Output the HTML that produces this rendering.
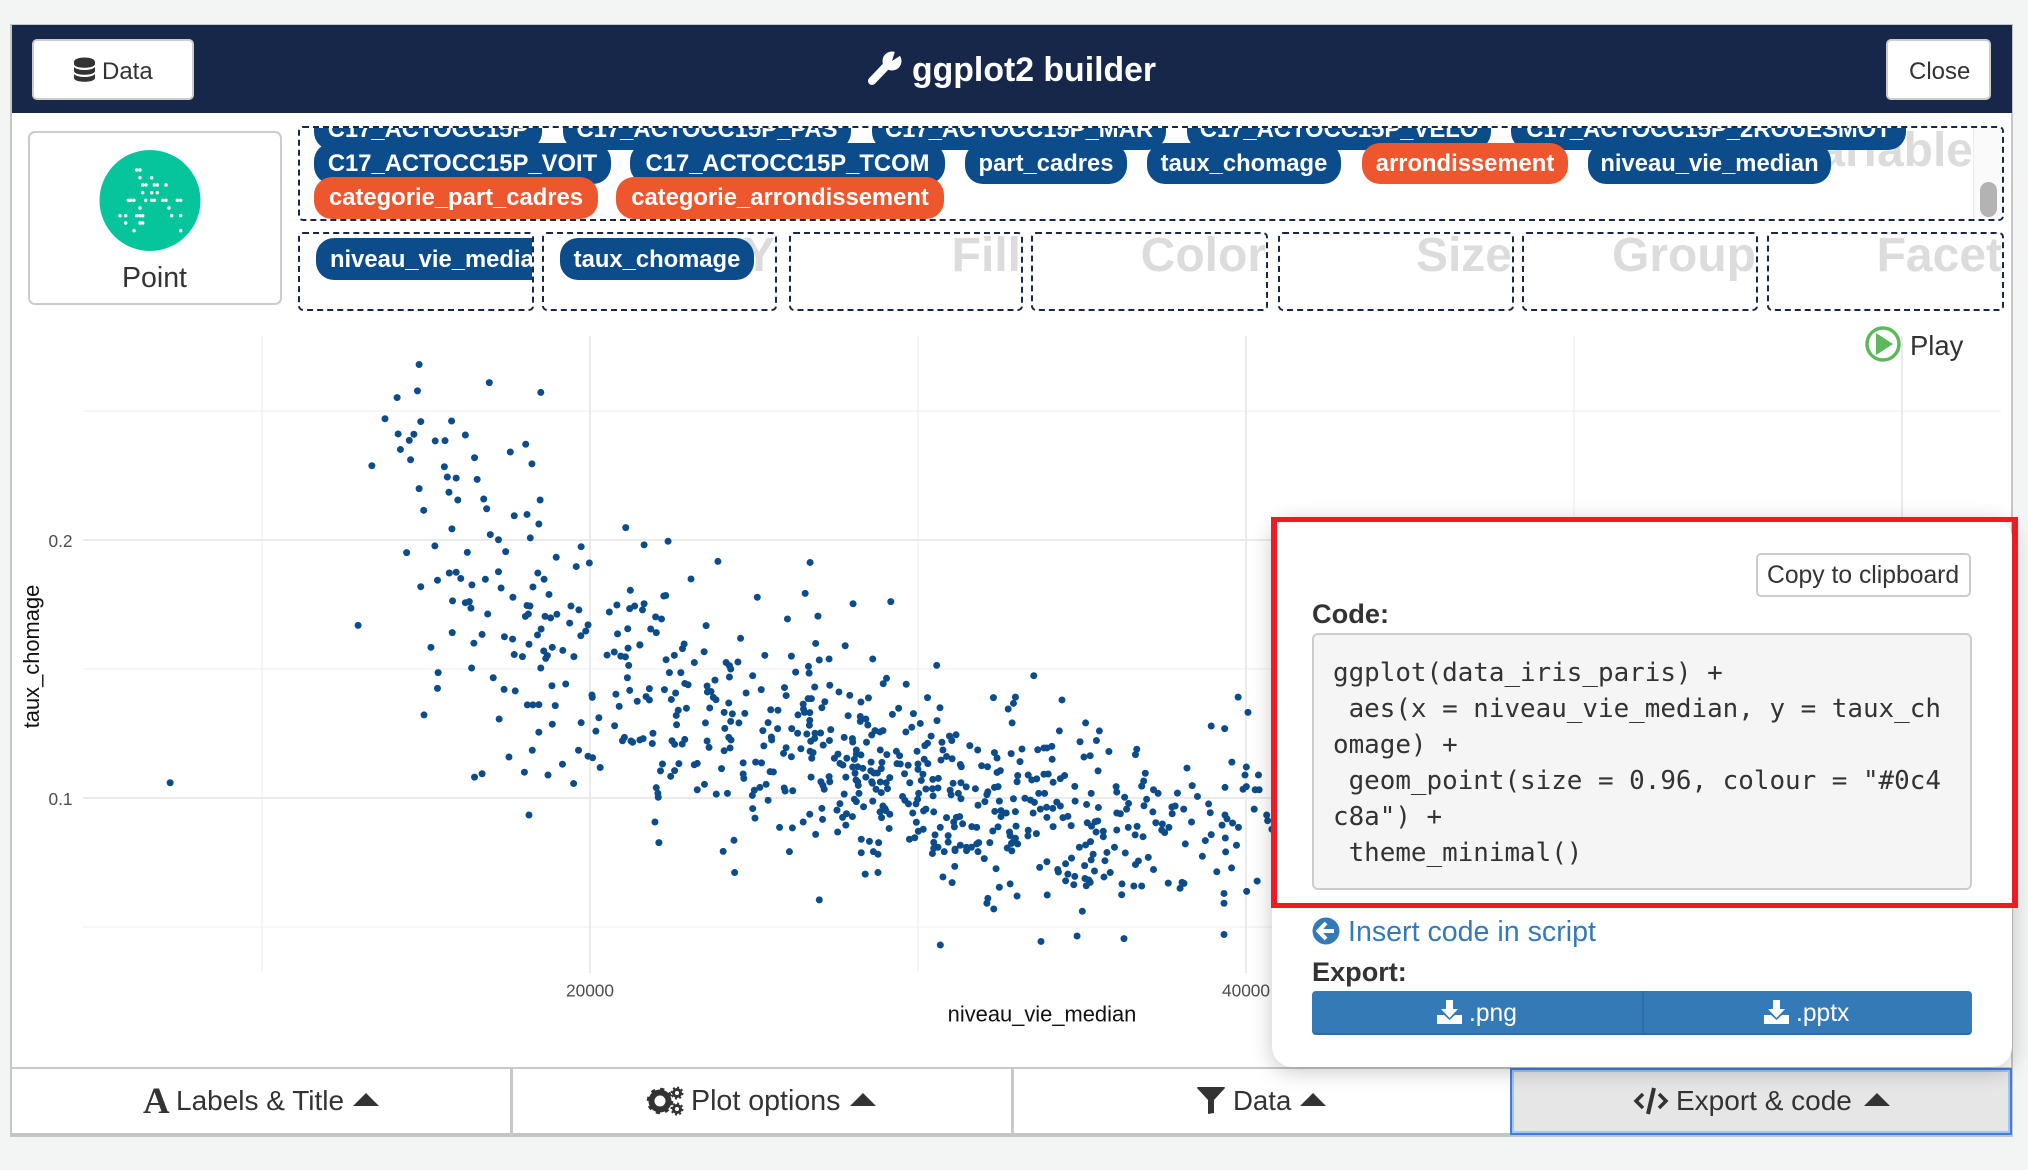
<!DOCTYPE html>
<html lang="en"><head><meta charset="utf-8"><title>ggplot2 builder</title>
<style>
html,body{margin:0;padding:0;width:2028px;height:1170px;overflow:hidden;background:#f3f4f4;font-family:"Liberation Sans",Arial,sans-serif;color:#333}
.a,.t{position:absolute}
.t{white-space:nowrap;line-height:1}
.btn{position:absolute;box-sizing:border-box;background:#fff;border:2px solid #ccc;border-radius:5px}
.dash{position:absolute;box-sizing:border-box;border:2px dashed #16274a;border-radius:5px;overflow:hidden;background:#fff}
.pill{position:absolute;height:41px;line-height:42px;text-align:center;border-radius:18px;color:#fff;font-weight:bold;font-size:23.8px;white-space:nowrap;background:#0c4c8a;z-index:1}
.org{background:#ee562d;z-index:2}
.lab{position:absolute;top:-2px;right:0;font-size:48px;font-weight:bold;color:#dcdcdc;line-height:1}
svg{position:absolute;overflow:visible}
.tab{font-size:28px}
</style></head>
<body>
<div class="a" style="left:10px;top:24px;width:2003px;height:1113px;box-sizing:border-box;background:#fff;border:2px solid #c6c6c6;border-top-width:1px"></div>

<div class="a" style="left:12px;top:25px;width:2000px;height:88px;background:#16274a"></div>
<div class="btn" style="left:32px;top:39px;width:162px;height:61px"></div>
<svg style="left:0;top:0" width="120" height="100"><path fill="#333" d="M74 62c0-6 21-6 21 0v2c0 5-21 5-21 0zM74 67c4 4 17 4 21 0v4c0 5-21 5-21 0zM74 74c4 4 17 4 21 0v4c0 5-21 5-21 0z"/></svg>
<div class="t" style="left:102px;top:60px;font-size:24px">Data</div>
<svg style="left:858px;top:46px" width="50" height="45"><line x1="14" y1="35" x2="33" y2="15" stroke="#fff" stroke-width="8" stroke-linecap="round"/><circle cx="34" cy="15" r="9.5" fill="#fff"/><path d="M34 15L38 2L48 6z" fill="#16274a"/></svg>
<div class="t" style="left:912px;top:53.9px;font-size:33.8px;font-weight:bold;color:#fff">ggplot2 builder</div>
<div class="btn" style="left:1886px;top:39px;width:105px;height:61px"></div>
<div class="t" style="left:1909px;top:60px;font-size:24px">Close</div>

<div class="btn" style="left:28px;top:131px;width:254px;height:174px;border-radius:7px"></div>
<svg style="left:0;top:0" width="280" height="260"><circle cx="150" cy="200.500" r="50.500" fill="#06c59d"/><path fill="none" stroke="#fff" stroke-width="3.400" stroke-linecap="round" d="M136.700 170h.01M140 170h.01M140 177.700h.01M151.700 177.700h.01M142.700 185h.01M146 185h.01M154.300 185h.01M157.300 185h.01M166 185h.01M142.700 192.700h.01M151.700 192.700h.01M157.300 192.700h.01M128.300 200.300h.01M130.700 200.300h.01M134 200.300h.01M145.700 200.300h.01M151.700 200.300h.01M154.300 200.300h.01M162.700 200.300h.01M166 200.300h.01M177.300 200.300h.01M180.700 200.300h.01M140 208h.01M169 208h.01M120 215.700h.01M125.700 215.700h.01M136.700 215.700h.01M140 215.700h.01M142.700 215.700h.01M171.700 215.700h.01M180.700 215.700h.01M125.700 223h.01M140 223h.01M142.700 223h.01M134 230.700h.01M180.700 230.700h.01"/></svg>
<div class="t" style="left:122px;top:264.200px;font-size:28.500px">Point</div>

<div class="dash" style="left:298px;top:126px;width:1706px;height:95px">
<div class="lab" style="right:29px;top:-1px">Variable</div>
<div class="pill" style="left:14px;top:-19px;width:228px">C17_ACTOCC15P</div>
<div class="pill" style="left:263px;top:-19px;width:288px">C17_ACTOCC15P_PAS</div>
<div class="pill" style="left:572px;top:-19px;width:294px">C17_ACTOCC15P_MAR</div>
<div class="pill" style="left:887px;top:-19px;width:304px">C17_ACTOCC15P_VELO</div>
<div class="pill" style="left:1211px;top:-19px;width:395px">C17_ACTOCC15P_2ROUESMOT</div>
<div class="pill" style="left:14px;top:15px;width:297px">C17_ACTOCC15P_VOIT</div>
<div class="pill" style="left:330px;top:15px;width:315px">C17_ACTOCC15P_TCOM</div>
<div class="pill" style="left:665px;top:15px;width:162px">part_cadres</div>
<div class="pill" style="left:847px;top:15px;width:194px">taux_chomage</div>
<div class="pill org" style="left:1062px;top:15px;width:206px">arrondissement</div>
<div class="pill" style="left:1288px;top:15px;width:243px">niveau_vie_median</div>
<div class="pill org" style="left:14px;top:49px;width:284px;height:42px">categorie_part_cadres</div>
<div class="pill org" style="left:316px;top:49px;width:328px;height:42px">categorie_arrondissement</div>
<div class="a" style="left:1673px;top:0;width:30px;height:91px;background:#fafafa;border-left:1px solid #ececec;z-index:3"></div>
<div class="a" style="left:1680px;top:54px;width:17px;height:35px;border-radius:9px;background:#b3b3b3;z-index:4"></div>
</div>

<div class="dash" style="left:298px;top:232px;width:236px;height:79px"><div class="lab">X</div><div class="pill" style="left:16px;top:4px;width:260px;height:42px;line-height:44px;text-align:left;padding-left:14px;box-sizing:border-box">niveau_vie_median</div></div>
<div class="dash" style="left:542px;top:232px;width:235px;height:79px"><div class="lab">Y</div><div class="pill" style="left:16px;top:4px;width:194px;height:42px;line-height:44px">taux_chomage</div></div>
<div class="dash" style="left:789px;top:232px;width:234px;height:79px"><div class="lab">Fill</div></div>
<div class="dash" style="left:1031px;top:232px;width:237px;height:79px"><div class="lab">Color</div></div>
<div class="dash" style="left:1278px;top:232px;width:236px;height:79px"><div class="lab">Size</div></div>
<div class="dash" style="left:1522px;top:232px;width:236px;height:79px"><div class="lab">Group</div></div>
<div class="dash" style="left:1767px;top:232px;width:237px;height:79px"><div class="lab">Facet</div></div>

<svg id="chart" style="left:0;top:0" width="2028" height="1170"></svg>

<svg style="left:1860px;top:320px" width="48" height="48"><circle cx="23" cy="24" r="16" fill="#fff" stroke="#5cb85c" stroke-width="3.500"/><path d="M16 13L33 24L16 35z" fill="#5cb85c"/></svg>
<div class="t" style="left:1910px;top:331.800px;font-size:27.400px">Play</div>

<!-- bottom tabs -->
<div class="a" style="left:12px;top:1067px;width:2000px;height:69px;box-sizing:border-box;background:#fff;border-top:2px solid #c8c8c8;border-bottom:3px solid #c4c4c4"></div>
<div class="a" style="left:510px;top:1067px;width:3px;height:69px;background:#c8c8c8"></div>
<div class="a" style="left:1011px;top:1067px;width:3px;height:69px;background:#c8c8c8"></div>
<div class="a" style="left:1510px;top:1068px;width:502px;height:67px;box-sizing:border-box;background:#e6e6e6;border:2px solid #3f7fdc;box-shadow:inset 0 0 0 2px #a6c4ee"></div>

<div class="t" style="left:143px;top:1083px;font-family:'Liberation Serif',serif;font-weight:bold;font-size:37px">A</div>
<div class="t tab" style="left:176px;top:1087px">Labels &amp; Title</div>
<svg style="left:353px;top:1093px" width="26" height="13"><path d="M0 13L13 0L26 13z" fill="#333"/></svg>
<svg style="left:648px;top:1087px" width="36" height="28"><circle cx="12" cy="14" r="8.500" fill="none" stroke="#333" stroke-width="6"/><circle cx="12" cy="14" r="11.500" fill="none" stroke="#333" stroke-width="3.500" stroke-dasharray="4 5"/><circle cx="29" cy="6" r="3.500" fill="none" stroke="#333" stroke-width="3"/><circle cx="29" cy="22" r="3.500" fill="none" stroke="#333" stroke-width="3"/><circle cx="29" cy="6" r="5.500" fill="none" stroke="#333" stroke-width="2" stroke-dasharray="2 2.300"/><circle cx="29" cy="22" r="5.500" fill="none" stroke="#333" stroke-width="2" stroke-dasharray="2 2.300"/></svg>
<div class="t tab" style="left:691px;top:1087px;font-size:28.600px">Plot options</div>
<svg style="left:850px;top:1093px" width="26" height="13"><path d="M0 13L13 0L26 13z" fill="#333"/></svg>
<svg style="left:1197px;top:1087px" width="28" height="28"><path d="M0 1C0 0 1 0 2 0H26C27 0 28 0 28 1L17 13V26L11 27V13z" fill="#333"/></svg>
<div class="t tab" style="left:1233px;top:1087px;font-size:27.600px">Data</div>
<svg style="left:1300px;top:1093px" width="26" height="13"><path d="M0 13L13 0L26 13z" fill="#333"/></svg>
<svg style="left:1634px;top:1087px" width="34" height="28"><path d="M9 7L2 14L9 21M25 7L32 14L25 21" fill="none" stroke="#333" stroke-width="3.500"/><path d="M20 1L14 27" stroke="#333" stroke-width="4"/></svg>
<div class="t tab" style="left:1676px;top:1087px">Export &amp; code</div>
<svg style="left:1864px;top:1093px" width="26" height="13"><path d="M0 13L13 0L26 13z" fill="#333"/></svg>

<!-- popup -->
<div class="a" style="left:1272px;top:518px;width:740px;height:549px;background:#fff;border-radius:20px;box-shadow:0 4px 22px rgba(0,0,0,.22)"></div>
<div class="btn" style="left:1756px;top:553px;width:215px;height:44px"></div>
<div class="t" style="left:1767px;top:563.600px;font-size:24.700px">Copy to clipboard</div>
<div class="t" style="left:1312px;top:599.500px;font-size:27.200px;font-weight:bold">Code:</div>
<div class="a" style="left:1312px;top:633px;width:660px;height:257px;box-sizing:border-box;background:#f5f5f5;border:2px solid #ccc;border-radius:6px"></div>
<pre class="a" style="left:1333px;top:655px;margin:0;font-family:'DejaVu Sans Mono','Liberation Mono',monospace;font-size:25.900px;line-height:36px;color:#333">ggplot(data_iris_paris) +
 aes(x = niveau_vie_median, y = taux_ch
omage) +
 geom_point(size = 0.96, colour = "#0c4
c8a") +
 theme_minimal()</pre>
<div class="a" style="left:1271px;top:517px;width:747px;height:391px;box-sizing:border-box;border:solid #ed1c24;border-width:5px 6px"></div>
<svg style="left:1312px;top:917px" width="28" height="28"><circle cx="14" cy="14" r="13.500" fill="#337ab7"/><path d="M14 6L6.500 14L14 22M7 14H22" fill="none" stroke="#fff" stroke-width="4"/></svg>
<div class="t" style="left:1348px;top:917.500px;font-size:28.600px;color:#337ab7">Insert code in script</div>
<div class="t" style="left:1312px;top:957.700px;font-size:27.100px;font-weight:bold">Export:</div>
<div class="a" style="left:1312px;top:991px;width:330px;height:44px;box-sizing:border-box;background:#337ab7;border-bottom:2px solid #2e6da4;border-radius:4px 0 0 4px"></div>
<div class="a" style="left:1642px;top:991px;width:330px;height:44px;box-sizing:border-box;background:#337ab7;border-left:2px solid #2e6da4;border-bottom:2px solid #2e6da4;border-radius:0 4px 4px 0"></div>
<svg style="left:1437px;top:1000px" width="25" height="25"><path d="M9 0H16V9H21L12.500 18L4 9H9zM0 15H7L12.500 20L18 15H25V24H0z" fill="#fff"/></svg>
<div class="t" style="left:1469px;top:1002px;font-size:24.600px;color:#fff">.png</div>
<svg style="left:1764px;top:1000px" width="25" height="25"><path d="M9 0H16V9H21L12.500 18L4 9H9zM0 15H7L12.500 20L18 15H25V24H0z" fill="#fff"/></svg>
<div class="t" style="left:1796px;top:1002px;font-size:24.600px;color:#fff">.pptx</div>

<script>
const xMajorTicks = [20000, 40000, 60000];
const xMinorTicks = [10000, 30000, 50000];
const yMajorTicks = [0.1, 0.2];
const yMinorTicks = [0.05, 0.15, 0.25];
const xTickLabels = ["20000", "40000", ""];
const yTickLabels = ["0.1", "0.2"];
const niveauVieMedian = [
14790,16930,14740,18500,14120,13750,14840,15780,14150,14630,16200,14490,15280,15580,18040,14220,17570,16480,14530,13350,
18230,15560,15650,15920,16560,14790,15700,16760,15970,18480,14930,16850,17690,18080,18440,15790,21090,16960,17210,18180,
15270,19730,14410,16260,17430,18970,19980,19580,15710,15920,17210,18410,15350,16060,16810,18600,16400,14840,17290,18260,
21230,18750,17650,15810,16200,16320,16370,18080,18170,19420,20820,21210,21360,20590,19660,16880,18120,18030,18630,18800,
18990,12930,19380,19940,18510,21150,19870,15800,16710,18400,19720,20840,17390,17640,16460,18140,15150,18850,21160,21520,
18590,19170,20740,20520,20940,21080,17690,17940,18700,18650,19510,21180,16390,18500,15370,21140,17050,
18840,19260,15350,17380,17720,20060,20070,20790,21210,21440,18090,18260,18440,18940,20890,14940,17230,20270,19730,18850,
20750,18440,20180,21050,20990,21250,21300,21520,19650,18240,17530,19940,20080,19160,20310,18000,18720,16480,16710,7200,19500,18140,
21650,22380,23900,26710,23080,22250,22310,25100,26560,21650,28020,29170,21600,22000,22180,26020,26950,21850,22020,23540,
24590,21520,26880,27780,22870,22820,23480,22570,22320,25330,26140,26990,27290,28620,23180,24150,24510,24250,24290,26660,
26680,26270,22420,22770,30570,33530,24960,24250,23810,29040,28940,29640,22890,22990,21810,22270,23570,23580,23690,22610,
24760,25220,25930,25980,26850,27310,27590,27920,21710,21810,22480,23760,23840,26650,26750,28260,28490,30290,32300,32970,
34390,39760,32910,24230,26500,27160,27070,26510,22940,23650,22690,25510,25730,29410,30670,32750,40060,24090,24340,24720,
26540,26700,22630,26340,27870,28240,28410,28240,29220,29860,24290,26700,26690,23520,22640,24540,25430,28470,30070,30580,
32870,35110,29810,24110,25720,26150,25270,26330,26610,26860,27030,27340,28690,28930,28840,29630,21920,28590,30400,34310,
35530,38940,39350,30960,31160,25530,25540,24230,24300,21620,22500,22890,23570,26850,26730,27750,28000,28010,27300,28430,
31030,30730,35440,34940,21900,22580,22810,25300,27110,23630,24270,24090,25980,26430,25900,30290,30210,31580,31820,28850,
29340,29970,30760,33170,33650,33840,33930,34080,35820,36670,36630,32330,32840,26710,26800,29050,29440,26140,26760,27450,
27560,27830,28060,28120,28120,28260,30870,31040,32410,34090,35060,35250,30190,30700,33110,39570,28570,28900,27620,27710,
25050,25230,24670,23180,23270,22210,22710,29360,29460,29700,30000,30300,31290,31320,31940,32120,40010,38200,28010,28160,
28320,24010,22580,22150,25490,25590,28560,28880,30000,28660,28760,28080,35490,32510,32410,29590,30150,33360,33040,33840,
33970,34470,36930,39970,40380,22460,24670,24690,26740,27290,27800,28410,29140,28110,30450,30620,33470,33620,34340,34120,
36880,27040,27310,28160,28590,28850,29030,29750,30100,31070,31310,33020,27100,28180,28610,31470,31750,32330,32440,34780,
36040,36820,38360,39360,40010,39910,40280,40400,22020,23490,25370,25180,25920,25950,26180,23270,27140,29070,28720,30240,
30440,30610,36060,37180,37320,37910,22070,22080,23850,24190,25010,24950,27750,28200,28880,30020,30460,30980,31010,31230,
31310,32130,32100,33680,33860,35280,36300,38520,29530,29600,28060,28620,28120,29710,29940,29990,32480,32910,33260,33430,
33550,34230,34790,35140,36420,36970,38860,25430,27620,28340,31830,32040,34340,35500,36890,37740,37840,40250,24960,27070,
27530,28930,28990,33730,33920,34110,36360,38100,30170,30240,30480,32340,32530,32690,32970,33510,36060,36170,37160,37750,
38910,29840,28840,29020,29140,26700,27820,28000,27700,32530,33930,34420,34570,39360,39420,28890,30870,31270,31170,25030,
27090,21980,26500,27800,29950,31090,31360,35160,35400,35480,37250,37450,38340,39590,39270,25780,26170,29120,30680,31110,
31640,31790,32440,32990,34120,34670,35290,36410,36680,37650,39770,36060,30160,30010,27550,32280,32790,33360,35430,35650,
37430,37520,26880,30520,30920,33350,33610,35650,36620,36860,38940,32810,39370,29740,29900,28270,28520,28800,30920,30480,
24390,22100,32190,32970,33040,32910,31850,38150,38760,39710,31290,31480,31630,31790,31130,30610,30480,32850,32720,34920,
35110,35260,35990,40630,40660,40790,
24060,26080,28270,28640,28780,30440,30800,31130,31480,31830,32860,35760,35340,36320,39380,38670,32020,34680,33930,35280,
35700,36720,37020,31120,32380,33710,34260,34280,34500,35080,35380,35860,36630,37180,39110,39560,24410,28390,28780,30760,
34570,34780,34500,34750,35090,35210,35250,35130,35670,36220,36580,36820,37630,38050,38110,37990,31040,32480,32810,40340,
40020,39330,33020,33940,36210,26990,32130,32100,39330,32310,35010,30680,33750,34850,36280,39330
];
const tauxChomage = [
.2680,.2610,.2578,.2572,.2552,.2470,.2459,.2461,.2411,.2410,.2407,.2386,.2384,.2385,.2371,.2351,.2341,.2319,.2311,.2288,
.2295,.2284,.2244,.2240,.2235,.2199,.2185,.2159,.2155,.2155,.2115,.2121,.2094,.2099,.2062,.2043,.2048,.2021,.2001,.2008,
.1977,.1974,.1951,.1952,.1955,.1933,.1911,.1897,.1872,.1875,.1877,.1872,.1844,.1851,.1848,.1848,.1826,.1819,.1814,.1818,
.1805,.1789,.1778,.1764,.1757,.1761,.1736,.1746,.1744,.1744,.1748,.1734,.1744,.1721,.1729,.1713,.1713,.1704,.1704,.1698,
.1712,.1669,.1678,.1671,.1655,.1656,.1647,.1641,.1634,.1632,.1629,.1636,.1625,.1616,.1600,.1596,.1584,.1584,.1581,.1593,
.1570,.1572,.1566,.1554,.1550,.1547,.1556,.1548,.1552,.1541,.1548,.1514,.1504,.1504,.1486,.1466,.1466,
.1435,.1442,.1425,.1421,.1415,.1399,.1390,.1402,.1417,.1375,.1361,.1361,.1362,.1358,.1355,.1322,.1306,.1311,.1292,.1286,
.1280,.1255,.1259,.1235,.1222,.1221,.1216,.1225,.1185,.1185,.1159,.1162,.1156,.1131,.1118,.1100,.1089,.1081,.1094,.1059,.1056,.0934,
.1981,.1995,.1917,.1913,.1849,.1783,.1785,.1778,.1793,.1753,.1753,.1761,.1729,.1702,.1694,.1694,.1705,.1655,.1641,.1668,
.1619,.1594,.1599,.1590,.1597,.1579,.1567,.1553,.1536,.1553,.1550,.1535,.1539,.1539,.1525,.1525,.1527,.1513,.1500,.1510,
.1484,.1488,.1486,.1486,.1514,.1474,.1474,.1469,.1457,.1464,.1443,.1441,.1444,.1439,.1424,.1420,.1434,.1411,.1413,.1407,
.1407,.1420,.1428,.1397,.1430,.1437,.1411,.1398,.1393,.1380,.1382,.1390,.1381,.1385,.1385,.1372,.1388,.1389,.1389,.1391,
.1380,.1391,.1367,.1368,.1364,.1373,.1350,.1344,.1348,.1349,.1340,.1342,.1340,.1348,.1350,.1345,.1332,.1332,.1326,.1328,
.1332,.1331,.1320,.1322,.1319,.1316,.1306,.1297,.1324,.1327,.1297,.1301,.1282,.1291,.1284,.1291,.1292,.1283,.1289,.1300,
.1291,.1291,.1274,.1270,.1269,.1269,.1261,.1251,.1248,.1251,.1252,.1265,.1261,.1261,.1256,.1256,.1251,.1244,.1240,.1260,
.1260,.1279,.1269,.1240,.1245,.1236,.1225,.1235,.1225,.1230,.1222,.1227,.1221,.1231,.1220,.1235,.1230,.1217,.1223,.1216,
.1223,.1216,.1223,.1218,.1211,.1208,.1209,.1202,.1205,.1196,.1194,.1183,.1195,.1191,.1173,.1212,.1203,.1203,.1186,.1186,
.1181,.1181,.1186,.1190,.1187,.1194,.1194,.1200,.1180,.1189,.1168,.1176,.1172,.1181,.1176,.1168,.1164,.1160,.1154,.1154,
.1170,.1154,.1150,.1186,.1170,.1167,.1161,.1152,.1155,.1150,.1159,.1164,.1150,.1147,.1141,.1139,.1139,.1138,.1134,.1128,
.1139,.1136,.1136,.1129,.1134,.1132,.1133,.1133,.1132,.1127,.1132,.1133,.1130,.1121,.1125,.1121,.1120,.1116,.1120,.1121,
.1115,.1114,.1106,.1105,.1102,.1101,.1105,.1114,.1111,.1097,.1097,.1096,.1105,.1106,.1099,.1094,.1092,.1089,.1087,.1092,
.1093,.1087,.1096,.1089,.1089,.1084,.1093,.1076,.1081,.1083,.1081,.1081,.1079,.1070,.1072,.1076,.1070,.1074,.1075,.1061,
.1066,.1063,.1063,.1063,.1063,.1062,.1059,.1059,.1068,.1057,.1059,.1063,.1049,.1049,.1057,.1043,.1036,.1041,.1044,.1045,
.1044,.1046,.1048,.1041,.1044,.1034,.1032,.1032,.1040,.1053,.1053,.1041,.1039,.1027,.1028,.1032,.1034,.1036,.1034,.1035,
.1036,.1039,.1023,.1032,.1018,.1019,.1018,.1003,.1015,.1018,.1030,.1010,.1015,.1018,.1021,.1018,.1008,.1030,.1012,.1018,
.0997,.1024,.1013,.1018,.1018,.1018,.1003,.1006,.1006,.0991,.0995,.0988,.0986,.0977,.0977,.0995,.0988,.0997,.0999,.0992,
.0983,.0984,.0988,.0975,.0979,.0995,.0977,.0991,.0978,.0966,.0972,.0986,.0969,.0963,.0970,.0965,.0969,.0957,.0959,.0960,
.0953,.0969,.0960,.0957,.0964,.0960,.0957,.0957,.0950,.0957,.0946,.0948,.0951,.0942,.0947,.0942,.0942,.0939,.0946,.0939,
.0943,.0942,.0946,.0951,.0937,.0937,.0939,.0928,.0925,.0928,.0925,.0924,.0929,.0934,.0919,.0924,.0924,.0928,.0925,.0922,
.0917,.0907,.0907,.0895,.0906,.0907,.0900,.0904,.0908,.0911,.0904,.0899,.0907,.0903,.0895,.0886,.0884,.0882,.0886,.0888,
.0889,.0886,.0888,.0891,.0889,.0893,.0891,.0886,.0890,.0886,.0886,.0876,.0879,.0871,.0868,.0872,.0868,.0875,.0868,.0871,
.0876,.0866,.0859,.0857,.0854,.0853,.0862,.0850,.0857,.0850,.0858,.0854,.0845,.0840,.0846,.0840,.0832,.0827,.0829,.0828,
.0836,.0827,.0827,.0844,.0822,.0831,.0827,.0822,.0835,.0817,.0817,.0809,.0809,.0822,.0802,.0809,.0805,.0824,.0806,.0809,
.0818,.0831,.0809,.0934,.0912,.0879,
.0793,.0792,.0788,.0792,.0782,.0785,.0792,.0796,.0796,.0792,.0795,.0789,.0782,.0787,.0791,.0774,.0765,.0767,.0753,.0760,
.0757,.0756,.0770,.0735,.0726,.0731,.0723,.0713,.0745,.0738,.0717,.0711,.0742,.0723,.0714,.0729,.0711,.0705,.0711,.0694,
.0705,.0696,.0679,.0664,.0688,.0682,.0673,.0660,.0694,.0667,.0659,.0659,.0670,.0673,.0669,.0650,.0672,.0654,.0667,.0678,
.0638,.0630,.0620,.0624,.0625,.0605,.0611,.0592,.0592,.0570,.0561,.0430,.0444,.0465,.0455,.0471
];
const xAxisTitle = "niveau_vie_median";
const yAxisTitle = "taux_chomage";

const svgNS = "http://www.w3.org/2000/svg";
const chart = document.getElementById("chart");
const plotLeft = 83, plotRight = 2001, plotTop = 336, plotBottom = 973;
function xScale(v) { return 590 + (v - 20000) * 0.0328; }
function yScale(v) { return 798 - (v - 0.1) * 2580; }
function shape(tag, attrs) {
  const el = document.createElementNS(svgNS, tag);
  for (const k in attrs) el.setAttribute(k, attrs[k]);
  chart.appendChild(el);
  return el;
}
yMinorTicks.forEach(function (v) {
  const el = shape("line", {x1: plotLeft, x2: plotRight, y1: yScale(v), y2: yScale(v), stroke: "#f0f0f0", "stroke-width": 1.2});
  
  
});
xMinorTicks.forEach(function (v) {
  const el = shape("line", {x1: xScale(v), x2: xScale(v), y1: plotTop, y2: plotBottom, stroke: "#f0f0f0", "stroke-width": 1.2});
  
  
});
yMajorTicks.forEach(function (v, i) {
  const el = shape("line", {x1: plotLeft, x2: plotRight, y1: yScale(v), y2: yScale(v), stroke: "#ebebeb", "stroke-width": 2});
  
  
  const lab = shape("text", {x: 72.5, y: yScale(v) + 7, "text-anchor": "end", "font-size": 17.3, fill: "#4d4d4d"});
  lab.textContent = yTickLabels[i];
  
  
});
xMajorTicks.forEach(function (v, i) {
  const el = shape("line", {x1: xScale(v), x2: xScale(v), y1: plotTop, y2: plotBottom, stroke: "#ebebeb", "stroke-width": 2});
  
  
  const lab = shape("text", {x: xScale(v), y: 996.7, "text-anchor": "middle", "font-size": 17.3, fill: "#4d4d4d"});
  lab.textContent = xTickLabels[i];
  
  
});
niveauVieMedian.forEach(function (v, i) {
  const dot = shape("circle", {cx: xScale(v), cy: yScale(tauxChomage[i]), r: 3.5, fill: "#0c4c8a"});
  
  
});
const xTitle = shape("text", {x: 1042, y: 1021.7, "text-anchor": "middle", "font-size": 21.9, fill: "#111"});
xTitle.textContent = xAxisTitle;


const yTitle = shape("text", {x: 0, y: 0, transform: "translate(39,656.5) rotate(-90)", "text-anchor": "middle", "font-size": 21.9, fill: "#111"});
yTitle.textContent = yAxisTitle;


</script>
</body></html>
